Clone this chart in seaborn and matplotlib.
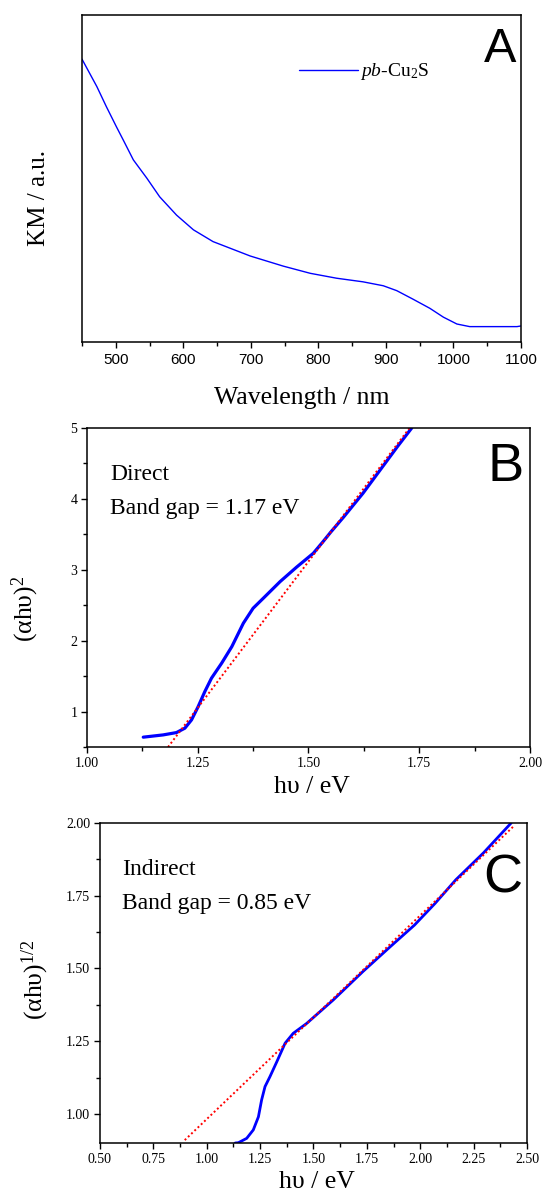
import numpy as np
import pandas as pd
import matplotlib
matplotlib.use("Agg")
import matplotlib.pyplot as plt
import seaborn as sns
from matplotlib.ticker import MultipleLocator, FormatStrFormatter

# ---------------- data ----------------
# Panel A: Kubelka-Munk spectrum (arbitrary units)
wavelength_nm = [450, 472, 486, 501, 511, 526, 546, 565, 590, 615, 644, 674, 699,
                 748, 788, 827, 866, 896, 916, 940, 965, 985, 1005, 1024, 1094, 1100]
km_au = [0.865, 0.781, 0.720, 0.658, 0.618, 0.557, 0.501, 0.444, 0.388, 0.343,
         0.307, 0.283, 0.263, 0.232, 0.210, 0.195, 0.184, 0.172, 0.157, 0.131,
         0.103, 0.076, 0.055, 0.047, 0.047, 0.049]

# Panel B: direct Tauc plot
direct_hv = [1.127, 1.172, 1.202, 1.221, 1.236, 1.251, 1.266, 1.281, 1.304, 1.327,
             1.353, 1.375, 1.398, 1.436, 1.473, 1.511, 1.533, 1.550, 1.580, 1.623,
             1.662, 1.701, 1.733]
direct_y = [0.639, 0.671, 0.704, 0.766, 0.883, 1.071, 1.282, 1.471, 1.683, 1.917,
            2.247, 2.458, 2.599, 2.834, 3.037, 3.234, 3.398, 3.53, 3.75, 4.08,
            4.41, 4.74, 5.0]
direct_fit_hv = [1.183, 1.728]
direct_fit_y = [0.5, 5.0]

# Panel C: indirect Tauc plot
indirect_hv = [1.133, 1.148, 1.187, 1.218, 1.242, 1.257, 1.273, 1.296, 1.328, 1.367,
               1.405, 1.468, 1.593, 1.731, 1.860, 1.973, 2.070, 2.167, 2.296, 2.426]
indirect_y = [0.9, 0.901, 0.916, 0.945, 0.990, 1.048, 1.094, 1.128, 1.179, 1.243,
              1.277, 1.311, 1.392, 1.489, 1.575, 1.649, 1.724, 1.805, 1.897, 2.0]
indirect_fit_hv = [0.897, 2.438]
indirect_fit_y = [0.910, 1.989]

a_xticks = [500, 600, 700, 800, 900, 1000, 1100]

# ---------------- style ----------------
sns.set_theme(style="ticks")
plt.rcParams.update({
    "font.family": ["Liberation Serif", "DejaVu Serif"],
    "mathtext.fontset": "custom",
    "mathtext.rm": "Liberation Serif",
    "mathtext.it": "Liberation Serif:italic",
    "mathtext.bf": "Liberation Serif:bold",
    "axes.linewidth": 1.1,
    "axes.edgecolor": "black",
    "xtick.direction": "out",
    "ytick.direction": "out",
    "xtick.color": "black",
    "ytick.color": "black",
    "text.color": "black",
    "axes.labelcolor": "black",
})

BLUE = "#0000FF"
RED = "#FF0000"

fig = plt.figure(figsize=(5.42, 11.92), dpi=100)
axA = fig.add_axes([0.1513, 0.7131, 0.810, 0.2743])
axB = fig.add_axes([0.1605, 0.3733, 0.8173, 0.2676])
axC = fig.add_axes([0.1845, 0.0411, 0.7878, 0.2685])

dfA = pd.DataFrame({"wl": wavelength_nm, "km": km_au})
dfB = pd.DataFrame({"hv": direct_hv, "y": direct_y})
dfBf = pd.DataFrame({"hv": direct_fit_hv, "y": direct_fit_y})
dfC = pd.DataFrame({"hv": indirect_hv, "y": indirect_y})
dfCf = pd.DataFrame({"hv": indirect_fit_hv, "y": indirect_fit_y})

# ---- Panel A ----
sns.lineplot(data=dfA, x="wl", y="km", ax=axA, color=BLUE, lw=1.0,
             label=r"$\it{pb}$-Cu$_2$S", estimator=None, sort=False)
axA.set_xlim(450, 1100)
axA.set_ylim(0, 1)
axA.set_xticks(a_xticks)
axA.xaxis.set_minor_locator(MultipleLocator(50))
axA.set_yticks([])
axA.tick_params(axis="x", which="major", length=4, width=1.0, labelsize=11,
                labelfontfamily="Liberation Sans", pad=4)
axA.tick_params(axis="x", which="minor", length=3, width=1.0)
axA.set_xlabel("Wavelength / nm", fontsize=18.5)
axA.set_ylabel("KM / a.u.", fontsize=18)
axA.xaxis.set_label_coords(0.501, -0.138)
axA.yaxis.set_label_coords(-0.072, 0.44)
axA.legend(loc="center left", bbox_to_anchor=(0.495, 0.826), frameon=False,
           fontsize=14, handlelength=3.0, handletextpad=0.1,
           borderpad=0, borderaxespad=0)
axA.text(0.99, 0.964, "A", transform=axA.transAxes, ha="right", va="top",
         fontsize=35, family="Liberation Sans")

# ---- Panel B ----
sns.lineplot(data=dfB, x="hv", y="y", ax=axB, color=BLUE, lw=2.3,
             estimator=None, sort=False, legend=False)
sns.lineplot(data=dfBf, x="hv", y="y", ax=axB, color=RED, lw=1.4,
             linestyle=(0, (1, 1.3)), estimator=None, sort=False, legend=False)
axB.set_xlim(1.0, 2.0)
axB.set_ylim(0.5, 5.0)
axB.xaxis.set_major_locator(MultipleLocator(0.25))
axB.xaxis.set_minor_locator(MultipleLocator(0.125))
axB.xaxis.set_major_formatter(FormatStrFormatter("%.2f"))
axB.yaxis.set_major_locator(MultipleLocator(1))
axB.yaxis.set_minor_locator(MultipleLocator(0.5))
axB.yaxis.set_major_formatter(FormatStrFormatter("%d"))
axB.tick_params(which="major", length=4, width=1.0, labelsize=10, pad=3)
axB.tick_params(which="minor", length=3, width=1.0)
axB.set_xlabel("hυ / eV", fontsize=18.5)
axB.set_ylabel("(αhυ)$^2$", fontsize=18.5)
axB.xaxis.set_label_coords(0.508, -0.092)
axB.yaxis.set_label_coords(-0.103, 0.433)
axB.text(0.052, 0.838, "Direct", transform=axB.transAxes, ha="left",
         va="baseline", fontsize=17)
axB.text(0.052, 0.731, "Band gap = 1.17 eV", transform=axB.transAxes, ha="left",
         va="baseline", fontsize=17)
axB.text(0.986, 0.957, "B", transform=axB.transAxes, ha="right", va="top",
         fontsize=39, family="Liberation Sans")

# ---- Panel C ----
sns.lineplot(data=dfC, x="hv", y="y", ax=axC, color=BLUE, lw=2.0,
             estimator=None, sort=False, legend=False)
sns.lineplot(data=dfCf, x="hv", y="y", ax=axC, color=RED, lw=1.4,
             linestyle=(0, (1, 1.3)), estimator=None, sort=False, legend=False)
axC.set_xlim(0.5, 2.5)
axC.set_ylim(0.9, 2.0)
axC.xaxis.set_major_locator(MultipleLocator(0.25))
axC.xaxis.set_minor_locator(MultipleLocator(0.125))
axC.xaxis.set_major_formatter(FormatStrFormatter("%.2f"))
axC.yaxis.set_major_locator(MultipleLocator(0.25))
axC.yaxis.set_minor_locator(MultipleLocator(0.125))
axC.yaxis.set_major_formatter(FormatStrFormatter("%.2f"))
axC.tick_params(which="major", length=4, width=1.0, labelsize=10, pad=3)
axC.tick_params(which="minor", length=3, width=1.0)
axC.set_xlabel("hυ / eV", fontsize=18.5)
axC.set_ylabel("(αhυ)$^{1/2}$", fontsize=18.5)
axC.xaxis.set_label_coords(0.508, -0.086)
axC.yaxis.set_label_coords(-0.115, 0.51)
axC.text(0.052, 0.838, "Indirect", transform=axC.transAxes, ha="left",
         va="baseline", fontsize=17)
axC.text(0.052, 0.730, "Band gap = 0.85 eV", transform=axC.transAxes, ha="left",
         va="baseline", fontsize=17)
axC.text(0.99, 0.906, "C", transform=axC.transAxes, ha="right", va="top",
         fontsize=39, family="Liberation Sans")

for ax in (axA, axB, axC):
    for s in ax.spines.values():
        s.set_visible(True)
        s.set_color("black")
        s.set_linewidth(1.1)

fig.savefig("out.png", dpi=100)
